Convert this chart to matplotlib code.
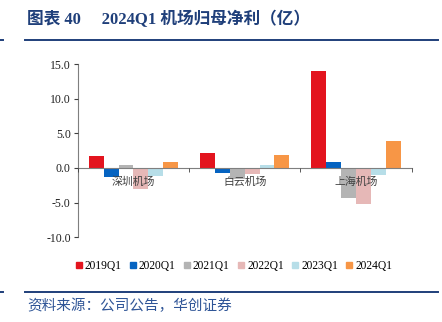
import numpy as np
import matplotlib
matplotlib.use('Agg')
import matplotlib.pyplot as plt
from matplotlib.lines import Line2D

plt.rcParams['font.family'] = ['Liberation Serif', 'Noto Sans CJK SC']

# ── Data ─────────────────────────────────────────────────────────
airports = ['深圳机场', '白云机场', '上海机场']
periods  = ['2019Q1', '2020Q1', '2021Q1', '2022Q1', '2023Q1', '2024Q1']
v2019 = [1.7, 2.2, 14.0]
v2020 = [-1.3, -0.7, 0.8]
v2021 = [0.45, -1.6, -4.4]
v2022 = [-3.0, -0.9, -5.2]
v2023 = [-1.1, 0.4, -1.05]
v2024 = [0.9, 1.85, 3.85]
series = [v2019, v2020, v2021, v2022, v2023, v2024]
colors = ['#E3141E', '#0563C1', '#B4B4B4', '#E6B8B7', '#B7DEE8', '#F79646']

yticks = [15.0, 10.0, 5.0, 0.0, -5.0, -10.0]

# ── Figure ───────────────────────────────────────────────────────
fig = plt.figure(figsize=(4.42, 3.22), dpi=100)
ax = fig.add_axes([0.1758, 0.263, 0.7556, 0.5382])

x = np.arange(len(airports))
w = 0.8 / len(periods)
for i, (vals, c, lab) in enumerate(zip(series, colors, periods)):
    ax.bar(x - 0.4 + w * (i + 0.5), vals, width=w, color=c, label=lab, zorder=1)
ax.set_axisbelow(False)

ax.set_xlim(-0.5, len(airports) - 0.5)
ax.set_ylim(-10, 15)
ax.set_yticks(yticks)
ax.set_yticklabels([f'{t:.1f}' for t in yticks], fontsize=8.5)

for s in ['top', 'right']:
    ax.spines[s].set_visible(False)
ax.spines['left'].set_color('#7F7F7F')
ax.spines['bottom'].set_position(('data', 0))
ax.spines['bottom'].set_color('#7F7F7F')

ax.set_xticks(x)
ax.set_xticklabels(airports, fontsize=7.8, color='#404040')
ax.set_xticks(np.arange(len(airports) + 1) - 0.5, minor=True)
ax.tick_params(axis='x', which='major', length=0, pad=6)
ax.tick_params(axis='x', which='minor', length=3, color='#404040', direction='out')
ax.tick_params(axis='y', length=3, color='#404040', pad=2, labelcolor='#202020')

handles = [Line2D([0], [0], marker='s', ls='', color=c, markersize=4.5) for c in colors]
fig.legend(handles, periods, loc='center', bbox_to_anchor=(234 / 442, 1 - 266 / 322),
           ncol=6, frameon=False, fontsize=8.3, handlelength=0.5, handletextpad=0.25,
           columnspacing=0.75)

# ── Title, rules, source ─────────────────────────────────────────
navy = '#1F3F7A'
fig.text(27 / 442, 1 - 19 / 322, '图表 40　 2024Q1 机场归母净利（亿）',
         fontsize=12, fontweight='bold', color=navy, va='center', ha='left')
for yy in [40, 292]:
    fig.add_artist(Line2D([25 / 442, 438 / 442], [1 - yy / 322] * 2, color=navy, lw=1.4))
    fig.add_artist(Line2D([0, 3 / 442], [1 - yy / 322] * 2, color=navy, lw=1.4))
fig.text(27 / 442, 1 - 306 / 322, '资料来源：公司公告，华创证券',
         fontsize=10.5, style='italic', color='#2F5597', va='center', ha='left')

fig.savefig('out.png', dpi=100)
